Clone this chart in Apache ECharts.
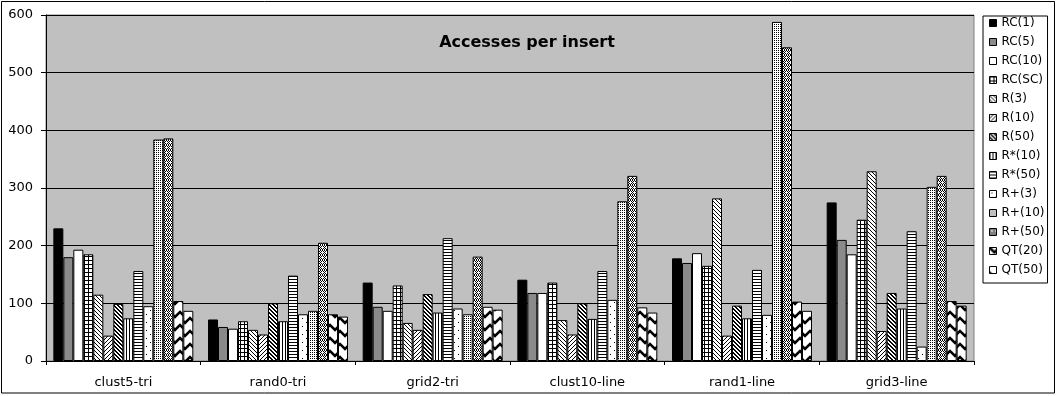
<!DOCTYPE html>
<html>
<head>
<meta charset="utf-8">
<title>Accesses per insert</title>
<script src="https://cdn.jsdelivr.net/npm/echarts@6/dist/echarts.min.js"></script>
<style>
  html, body { margin: 0; padding: 0; background: #fff; }
  #chart { width: 1057px; height: 396px; }
</style>
</head>
<body>
<div id="chart"></div>
<script>
// Datasets on the category axis
const categories = ['clust5-tri', 'rand0-tri', 'grid2-tri', 'clust10-line', 'rand1-line', 'grid3-line'];
const yTicks = [0, 100, 200, 300, 400, 500, 600];

// Average number of accesses per insert, one array per index variant
const rc1   = [230, 72, 136, 141, 178, 275];
const rc5   = [180, 59, 94, 118, 170, 210];
const rc10  = [193, 56, 87, 118, 187, 185];
const rcSC  = [185, 69, 131, 136, 165, 245];
const r3    = [115, 54, 66, 71, 282, 329];
const r10   = [44, 46, 54, 46, 44, 52];
const r50   = [99, 100, 116, 100, 96, 118];
const rs10  = [74, 69, 84, 73, 74, 91];
const rs50  = [156, 148, 213, 156, 158, 225];
const rp3   = [95, 81, 91, 106, 80, 25];
const rp10  = [384, 87, 81, 277, 588, 302];
const rp50  = [386, 205, 181, 321, 544, 321];
const qt20  = [104, 81, 94, 93, 103, 104];
const qt50  = [87, 77, 89, 84, 87, 96];

const seriesNames = ['RC(1)', 'RC(5)', 'RC(10)', 'RC(SC)', 'R(3)', 'R(10)', 'R(50)',
                     'R*(10)', 'R*(50)', 'R+(3)', 'R+(10)', 'R+(50)', 'QT(20)', 'QT(50)'];
const seriesValues = [rc1, rc5, rc10, rcSC, r3, r10, r50, rs10, rs50, rp3, rp10, rp50, qt20, qt50];

// Small monochrome tiles used as bar fills
function tile(w, h, draw) {
  const c = document.createElement('canvas');
  c.width = w; c.height = h;
  const g = c.getContext('2d');
  g.fillStyle = '#fff';
  g.fillRect(0, 0, w, h);
  g.fillStyle = '#000';
  g.strokeStyle = '#000';
  draw(g, w, h);
  return { image: c, repeat: 'repeat' };
}
const px = (g, x, y) => g.fillRect(x, y, 1, 1);

const fills = [
  '#000000',
  '#8a8a8a',
  '#ffffff',
  tile(4, 4, g => { g.fillRect(0, 0, 4, 1); g.fillRect(0, 0, 1, 4); }),
  tile(4, 4, g => { for (let i = 0; i < 4; i++) px(g, i, i); }),
  tile(4, 4, g => { for (let i = 0; i < 4; i++) px(g, 3 - i, i); }),
  tile(4, 4, g => { for (let i = 0; i < 4; i++) { px(g, i, i); px(g, (i + 1) % 4, i); } }),
  tile(3, 1, g => { px(g, 0, 0); }),
  tile(3, 3, g => { g.fillRect(0, 0, 3, 1); }),
  tile(8, 8, g => { px(g, 2, 2); px(g, 6, 6); }),
  tile(2, 2, g => { px(g, 0, 0); }),
  tile(4, 5, (g, w, h) => {
    for (let y = 0; y < h; y++) for (let x = 0; x < w; x++) if ((x + y) % 2 === 0) px(g, x, y);
    g.fillStyle = '#fff'; px(g, 2, 2); px(g, 1, 2); px(g, 3, 2);
  }),
  tile(10, 13, g => {
    g.lineWidth = 2.6;
    for (const o of [-13, 0, 13]) {
      g.beginPath(); g.moveTo(-1, o - 1); g.lineTo(5, o + 5); g.lineTo(11, o - 1); g.stroke();
    }
  }),
  tile(10, 13, g => {
    g.lineWidth = 2.6;
    for (const o of [-13, 0, 13]) {
      g.beginPath(); g.moveTo(-1, o + 5); g.lineTo(5, o + 11); g.lineTo(11, o + 5); g.stroke();
    }
  })
];

const FONT = 'DejaVu Sans';

const series = seriesNames.map((name, i) => ({
  name,
  type: 'bar',
  data: seriesValues[i],
  barGap: '0%',
  barCategoryGap: '9.5%',
  itemStyle: { color: fills[i], borderColor: '#000', borderWidth: 1 },
  emphasis: { disabled: true },
  animation: false
}));

const chart = echarts.init(document.getElementById('chart'), null, { renderer: 'canvas' });
chart.setOption({
  animation: false,
  backgroundColor: '#fff',
  title: {
    text: 'Accesses per insert',
    left: 527,
    top: 35,
    textAlign: 'center',
    padding: 0,
    textStyle: { fontFamily: FONT, fontSize: 16, fontWeight: 'bold', color: '#000' }
  },
  legend: {
    orient: 'vertical',
    left: 983,
    top: 16,
    padding: [0, 3, 6, 6],
    itemGap: 5,
    itemWidth: 7,
    itemHeight: 7,
    itemTextGap: 5,
    icon: 'rect',
    borderColor: '#000',
    borderWidth: 1,
    backgroundColor: '#fff',
    itemStyle: { borderColor: '#000', borderWidth: 1 },
    textStyle: { fontFamily: FONT, fontSize: 12, lineHeight: 14, color: '#000' },
    data: seriesNames
  },
  grid: {
    left: 46, right: 83, top: 15, bottom: 35,
    show: true,
    backgroundColor: '#c0c0c0',
    borderColor: '#808080',
    borderWidth: 1,
    containLabel: false,
    outerBoundsMode: 'none'
  },
  xAxis: {
    type: 'category',
    data: categories,
    axisLine: { lineStyle: { color: '#000', width: 1 } },
    axisTick: { show: true, length: 4, lineStyle: { color: '#000' } },
    axisLabel: { fontFamily: FONT, fontSize: 13, color: '#000', margin: 15, interval: 0 },
    splitLine: { show: false }
  },
  yAxis: {
    type: 'value',
    min: yTicks[0],
    max: yTicks[yTicks.length - 1],
    interval: 100,
    axisLine: { show: true, lineStyle: { color: '#000', width: 1 } },
    axisTick: { show: true, length: 5, lineStyle: { color: '#000' } },
    axisLabel: { fontFamily: FONT, fontSize: 13, color: '#000', margin: 13 },
    splitLine: { show: true, lineStyle: { color: '#000', width: 1 } }
  },
  graphic: [{
    type: 'rect',
    silent: true,
    z: 100,
    shape: { x: 1.5, y: 1.5, width: 1053, height: 391.5 },
    style: { fill: null, stroke: '#000', lineWidth: 1 }
  }],
  series
});
</script>
</body>
</html>
